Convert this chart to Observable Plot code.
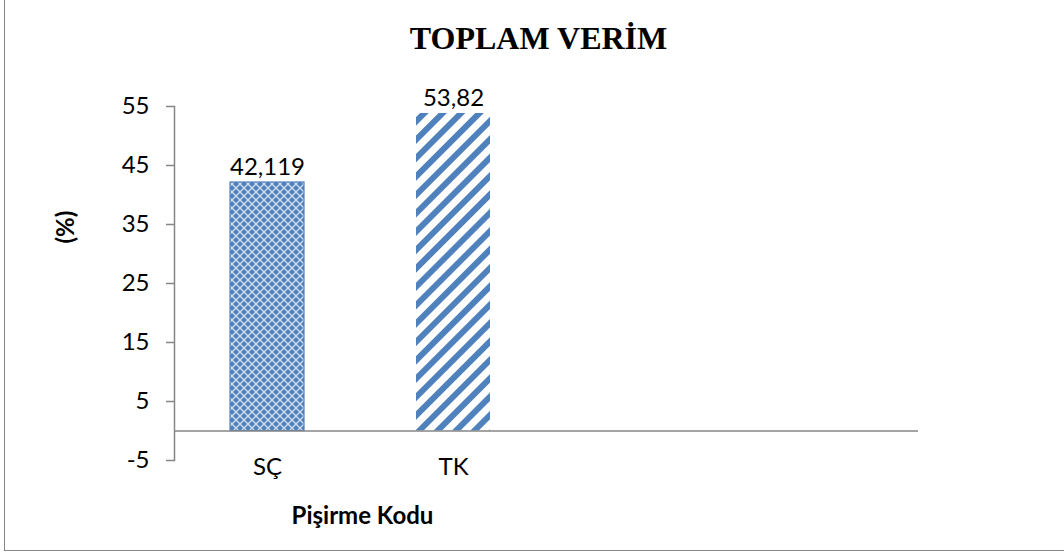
<!DOCTYPE html>
<html>
<head>
<meta charset="utf-8">
<script src="https://cdn.jsdelivr.net/npm/d3@7"></script>
<script src="https://cdn.jsdelivr.net/npm/@observablehq/plot@0.6"></script>
<style>
  body { margin: 0; background: #fff; }
  #wrap { position: relative; width: 1064px; height: 552px; overflow: hidden; }
  #frame { position: absolute; left: 4px; top: -2px; width: 1100px; height: 553px;
           border: 1.5px solid #868686; box-sizing: border-box; pointer-events: none; }
</style>
</head>
<body>
<div id="wrap"><div id="chart"></div><div id="frame"></div></div>
<script>
const categories = ["SÇ", "TK", "_3", "_4"];
const values = [42.119, 53.82];
const valueLabels = ["42,119", "53,82"];
const yTicks = [-5, 5, 15, 25, 35, 45, 55];
const title = "TOPLAM VERİM";
const xTitle = "Pişirme Kodu";
const yTitle = "(%)";

const data = values.map((v, i) => ({cat: categories[i], value: v, label: valueLabels[i]}));

const chart = Plot.plot({
  width: 1064,
  height: 552,
  marginLeft: 174,
  marginRight: 146,
  marginTop: 106,
  marginBottom: 92,
  style: {fontFamily: "Lato", fontSize: "24px", color: "#000", background: "transparent"},
  x: {domain: categories, paddingInner: 0.6, paddingOuter: 0.3, label: null},
  y: {domain: [-5, 55], label: null},
  marks: [
    Plot.barY([data[0]], {x: "cat", y: "value", fill: "url(#patSC)", stroke: "#4F81BD", strokeWidth: 1.2}),
    Plot.barY([data[1]], {x: "cat", y: "value", fill: "url(#patTK)"}),
    Plot.ruleY([0], {stroke: "#868686", strokeWidth: 1.5}),
    Plot.frame({anchor: "left", stroke: "#868686", strokeWidth: 1.5}),
    Plot.axisY({ticks: yTicks, tickSize: 8, tickPadding: 17, tickFormat: d => String(d),
                stroke: "#868686", strokeWidth: 1.5, label: null, fontSize: 24}),
    Plot.axisX({tickSize: 0, tickPadding: -3, tickFormat: d => d.startsWith("_") ? "" : d,
                label: null, fontSize: 24}),
    Plot.text(data, {x: "cat", y: "value", text: "label", lineAnchor: "bottom", dy: -7, fontSize: 24}),
    Plot.text([title], {frameAnchor: "top", text: d => d, dx: -8, dy: -58, lineAnchor: "bottom",
                        fontFamily: "Liberation Serif", fontWeight: "bold", fontSize: 32}),
    Plot.text([xTitle], {frameAnchor: "bottom-left", text: d => d, dx: 188, dy: 63, lineAnchor: "bottom",
                         textAnchor: "middle", fontWeight: "bold", fontSize: 24}),
    Plot.text([yTitle], {frameAnchor: "left", text: d => d, dx: -108, dy: -40, rotate: -90,
                         fontWeight: "bold", fontSize: 24})
  ]
});

const svg = d3.select(chart);
const defs = svg.insert("defs", ":first-child");
const p1 = defs.append("pattern").attr("id", "patSC").attr("patternUnits", "userSpaceOnUse")
  .attr("width", 8).attr("height", 8);
p1.append("rect").attr("width", 8).attr("height", 8).attr("fill", "#4F81BD");
p1.append("path").attr("d", "M0,0L8,8M8,0L0,8").attr("stroke", "#fff").attr("stroke-width", 1.3)
  .attr("stroke-opacity", 0.75);
const p2 = defs.append("pattern").attr("id", "patTK").attr("patternUnits", "userSpaceOnUse")
  .attr("width", 13).attr("height", 13).attr("patternTransform", "rotate(45)");
p2.append("rect").attr("width", 13).attr("height", 13).attr("fill", "#fff");
p2.append("rect").attr("width", 6).attr("height", 13).attr("fill", "#4F81BD");

document.getElementById("chart").appendChild(chart);
</script>
</body>
</html>
